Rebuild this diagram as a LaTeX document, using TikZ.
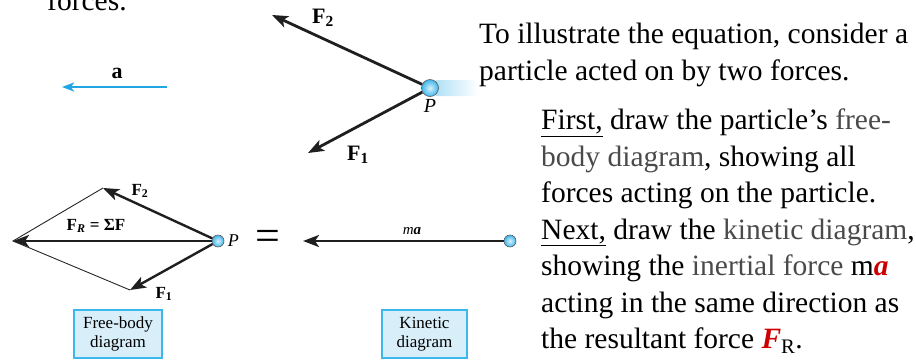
\documentclass[tikz,border=0pt]{standalone}
\usepackage{fontspec}
\setmainfont{Liberation Serif}
\usetikzlibrary{arrows.meta,positioning,fadings}

\definecolor{ballblue}{HTML}{3FB6EC}
\definecolor{accblue}{HTML}{1FA6E3}
\definecolor{boxfill}{HTML}{D8EFFA}
\definecolor{boxline}{HTML}{3DB8EE}
\definecolor{notegray}{HTML}{4A4A4A}
\definecolor{keyred}{HTML}{CC0000}

\begin{document}
\begin{tikzpicture}[
  x=1pt, y=-1pt,
  particle/.style={circle, draw=black!65, line width=0.6pt, inner sep=0pt, minimum size=#1, shade, inner color=ballblue!20, outer color=ballblue},
  force/.style={-{Stealth[length=16pt,width=12pt,inset=4pt]}, line width=2.8pt, black!88},
  small force/.style={force, line width=2.4pt},
  accel/.style={-{Stealth[length=12pt,width=9pt,inset=3pt]}, line width=2.2pt, accblue},
  guide/.style={line width=0.9pt, black!85},
  label/.style={font=\fontsize{22}{22}\selectfont\bfseries, inner sep=1pt},
  small label/.style={font=\fontsize{17}{17}\selectfont\bfseries, inner sep=1pt},
  tag/.style={draw=boxline, fill=boxfill, line width=1.2pt, align=center, font=\fontsize{17}{19}\selectfont, minimum height=48pt, inner sep=2pt},
  prose/.style={align=left, font=\fontsize{29.5}{36.5}\selectfont, inner sep=0pt}
]
\useasboundingbox (0,0) rectangle (916,360);

% text at the right
\node[prose, anchor=base west] (tail) at (47,10) {forces.};
\node[prose, anchor=north west] (intro) at (479,23)
  {To illustrate the equation, consider a\\ particle acted on by two forces.};
\node[prose, anchor=north west] (steps) at (541,109)
  {\underline{First,} draw the particle’s \textcolor{notegray}{free-}\\
   \textcolor{notegray}{body diagram}, showing all\\
   forces acting on the particle.\\
   \underline{Next,} draw the \textcolor{notegray}{kinetic diagram},\\
   showing the \textcolor{notegray}{inertial force} m\textcolor{keyred}{\textbf{\textit{a}}}\\
   acting in the same direction as\\
   the resultant force \textcolor{keyred}{\textbf{\textit{F}}}\textsubscript{R}.};

% particle with forces
\fill[ballblue!45, path fading=east, rounded corners=6pt] (432,80) rectangle (478,96);
\node[particle=17pt] (top) at (430,88) {};
\coordinate (topF2) at (272,15);
\coordinate (topF1) at (308,153);
\draw[force] (top) -- (topF2);
\draw[force] (top) -- (topF1);
\node[label] (topF2lab) at (323,18) {F\textsubscript{2}};
\node[label] (topF1lab) at (358,155) {F\textsubscript{1}};
\node[font=\fontsize{20}{20}\selectfont\itshape, below=-1pt of top] (topP) {P};

% acceleration
\coordinate (atail) at (167,87);
\coordinate (atip) at (62,87);
\draw[accel] (atail) -- (atip);
\node[label] (alab) at (117,73) {a};

% free-body diagram
\coordinate (fbdR) at (13,241);
\coordinate (fbdF2) at (103,188);
\coordinate (fbdF1) at (130,290);
\draw[guide] (fbdF2) -- (fbdR) -- (fbdF1);
\node[particle=12pt] (fbd) at (218,241) {};
\draw[small force] (fbd) -- (fbdR);
\draw[small force] (fbd) -- (fbdF2);
\draw[small force] (fbd) -- (fbdF1);
\node[small label] (fbdRlab) at (96,226) {F\textsubscript{\textit{R}} = ΣF};
\node[small label] (fbdF2lab) at (140,191) {F\textsubscript{2}};
\node[small label] (fbdF1lab) at (164,294) {F\textsubscript{1}};
\node[font=\fontsize{18}{18}\selectfont\itshape, right=0pt of fbd] (fbdP) {P};
\node[font=\fontsize{44}{44}\selectfont, inner sep=0pt] (equals) at (268,240) {=};

% kinetic diagram
\node[particle=12pt] (kin) at (510,241) {};
\coordinate (kintip) at (303,241);
\draw[small force] (kin) -- (kintip);
\node[font=\fontsize{15}{15}\selectfont\itshape, inner sep=1pt] (malab) at (412,231) {m\textbf{a}};

% captions
\node[tag, minimum width=88pt] (fbdtag) at (118,334) {Free-body\\diagram};
\node[tag, minimum width=85pt] (kintag) at (424.5,334) {Kinetic\\diagram};
\end{tikzpicture}
\end{document}
